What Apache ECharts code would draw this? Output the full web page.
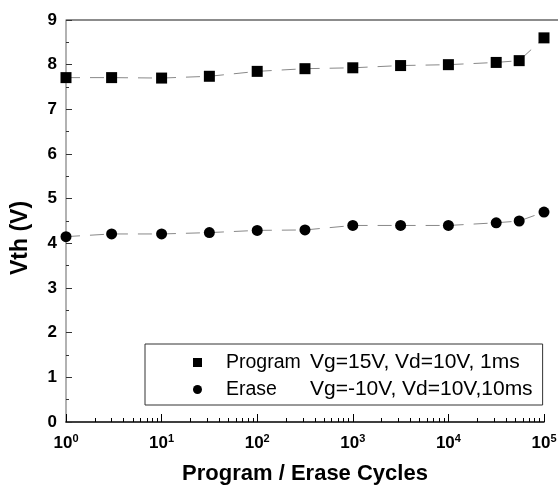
<!DOCTYPE html>
<html>
<head>
<meta charset="utf-8">
<script src="https://cdn.jsdelivr.net/npm/echarts@6/dist/echarts.min.js"></script>
<style>
  html, body { margin: 0; padding: 0; background: #fff; }
  #chart { width: 558px; height: 486px; }
</style>
</head>
<body>
<div id="chart"></div>
<script>
// cycles (log axis)
const cycles = [1, 3, 10, 31.6, 100, 316, 1000, 3162, 10000, 31623, 55000, 100000]
const programVth = [7.71, 7.71, 7.70, 7.74, 7.85, 7.91, 7.93, 7.98, 8.00, 8.05, 8.09, 8.60]
const eraseVth = [4.15, 4.21, 4.21, 4.24, 4.29, 4.30, 4.40, 4.40, 4.40, 4.46, 4.50, 4.70]

const seriesLabels = ['Program', 'Erase']
const seriesConditions = ['Vg=15V, Vd=10V, 1ms', 'Vg=-10V, Vd=10V,10ms']

// minor ticks at 2..9 of each decade
const minorTicks = []
for (let d = 0; d < 5; d++) {
  for (let k = 2; k <= 9; k++) minorTicks.push(k * Math.pow(10, d))
}

const font = 'Arial, "Liberation Sans", sans-serif'

const chart = echarts.init(document.getElementById('chart'))

chart.setOption({
  animation: false,
  grid: { left: 66, top: 20, right: 14, bottom: 64, outerBoundsMode: 'none' },
  legend: {
    orient: 'vertical',
    left: 145,
    top: 344,
    padding: [8, 10, 5, 48],
    itemGap: 6,
    itemWidth: 9,
    itemHeight: 9,
    borderColor: '#333',
    borderWidth: 1,
    borderRadius: 0,
    formatter: name => {
      const i = seriesLabels.indexOf(name)
      return '{a|' + name + '}{b|' + seriesConditions[i] + '}'
    },
    textStyle: {
      color: '#000',
      fontFamily: font,
      fontSize: 20,
      rich: {
        a: { fontFamily: font, fontSize: 19.5, width: 84, padding: [0, 0, 0, 19] },
        b: { fontFamily: font, fontSize: 21 }
      }
    },
    data: [
      { name: 'Program', icon: 'rect' },
      { name: 'Erase', icon: 'circle' }
    ]
  },
  xAxis: [{
    type: 'log',
    logBase: 10,
    min: 1,
    max: 100000,
    name: 'Program / Erase Cycles',
    nameLocation: 'middle',
    nameGap: 41,
    nameTextStyle: { fontFamily: font, fontSize: 22, fontWeight: 'bold', color: '#000' },
    axisLine: { lineStyle: { color: '#000', width: 1.5 } },
    axisTick: { inside: true, length: 8, lineStyle: { color: '#000' } },
    splitLine: { show: false },
    axisLabel: {
      margin: 11,
      formatter: v => '{b|10}{s|' + Math.round(Math.log10(v)) + '}',
      rich: {
        b: { fontFamily: font, fontSize: 17, fontWeight: 'bold', color: '#000' },
        s: { fontFamily: font, fontSize: 11, fontWeight: 'bold', color: '#000', padding: [0, 0, 9, 0] }
      }
    }
  }, {
    type: 'log',
    logBase: 10,
    min: 1,
    max: 100000,
    position: 'bottom',
    axisLine: { show: false },
    axisLabel: { show: false },
    splitLine: { show: false },
    axisTick: { inside: true, length: 4, customValues: minorTicks, lineStyle: { color: '#000' } }
  }],
  yAxis: {
    type: 'value',
    min: 0,
    max: 9,
    interval: 1,
    name: 'Vth (V)',
    nameLocation: 'middle',
    nameGap: 34,
    nameTextStyle: { fontFamily: font, fontSize: 23, fontWeight: 'bold', color: '#000', padding: [0, 34, 0, 0] },
    axisLine: { show: true, lineStyle: { color: '#999', width: 1.5 } },
    axisTick: { inside: true, length: 6, lineStyle: { color: '#333' } },
    minorTick: { show: true, splitNumber: 2, length: 3, lineStyle: { color: '#333' } },
    splitLine: { show: false },
    axisLabel: { fontFamily: font, fontSize: 17, fontWeight: 'bold', color: '#000', margin: 9 }
  },
  graphic: [{
    type: 'line',
    shape: { x1: 66, y1: 20, x2: 558, y2: 20 },
    style: { stroke: '#666', lineWidth: 1.5 }
  }],
  series: [{
    name: 'Program',
    type: 'line',
    data: cycles.map((c, i) => [c, programVth[i]]),
    symbol: 'rect',
    symbolSize: 11,
    itemStyle: { color: '#000' },
    lineStyle: { color: '#888', width: 1, type: [14, 10] }
  }, {
    name: 'Erase',
    type: 'line',
    data: cycles.map((c, i) => [c, eraseVth[i]]),
    symbol: 'circle',
    symbolSize: 11,
    itemStyle: { color: '#000' },
    lineStyle: { color: '#888', width: 1, type: [14, 10] }
  }]
})
</script>
</body>
</html>
